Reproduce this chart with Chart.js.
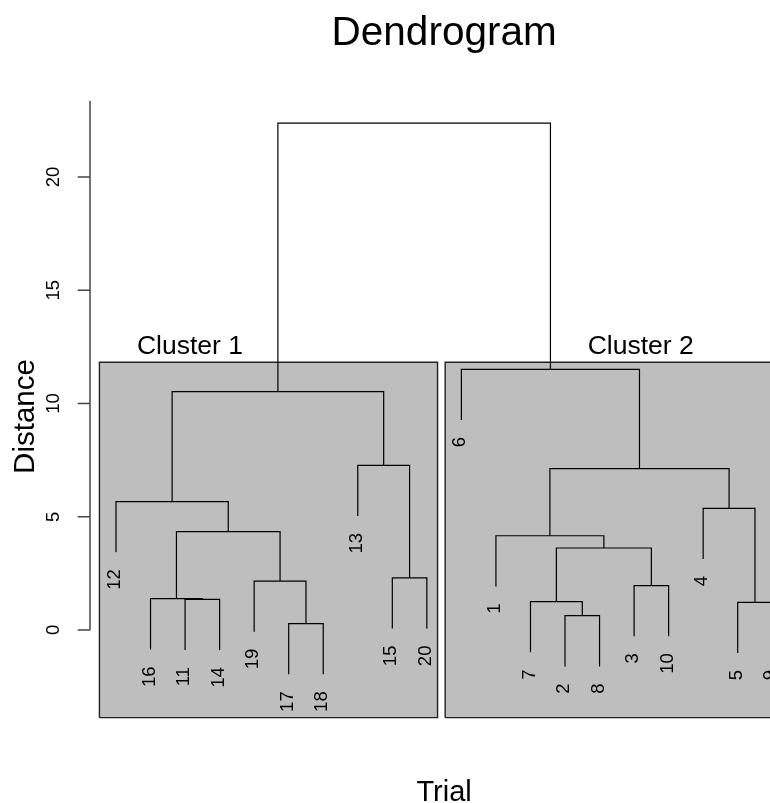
<!DOCTYPE html>
<html><head><meta charset="utf-8">
<script src="https://cdn.jsdelivr.net/npm/chart.js@4.4.1/dist/chart.umd.min.js"></script>
<style>
html,body{margin:0;padding:0;background:#fff;overflow:hidden;width:770px;height:803px}
#wrap{width:888px;height:803px}
</style></head>
<body><div id="wrap"><canvas id="c" width="888" height="803"></canvas></div>
<script>
// ---- data ----
const leafLabels = ['12','16','11','14','19','17','18','13','15','20','6','1','7','2','8','3','10','4','5','9'];
// merge steps (R hclust style): negative = leaf position in plot order, positive = earlier merge
const mergeLeft  = [-6,-14,-19,-13,-3,-2,-16,-5,-9, 4,-12, 6,-18,-1,11,-8,14,-11,17];
const mergeRight = [-7,-15,-20,  2,-4, 5,-17, 1,-10,7, 10, 8,  3,12,13, 9,16, 15,18];
const mergeHeights = [0.28,0.63,1.22,1.25,1.35,1.38,1.96,2.16,2.30,3.62,4.16,4.34,5.37,5.67,7.12,7.27,10.52,11.51,22.38];
const yTicks = [0,5,10,15,20];
const clusterNames = ['Cluster 1','Cluster 2'];
const clusterFrom = [0.52,10.53];
const clusterTo = [10.31,20.31];
const clusterTop = [11.82,11.82];
const clusterBottom = [-3.87,-3.87];
const clusterLabelX = [3.14,16.19];
const clusterLabelY = [12.2,12.2];
const titleText = 'Dendrogram', xTitle = 'Trial', yTitle = 'Distance';

// ---- build tree geometry ----
const hang = 0.1 * Math.max(...mergeHeights);
const nodeX = [];
const leafEnd = new Array(leafLabels.length);
function cx(c){ return c < 0 ? -c : nodeX[c-1]; }
function cy(c,h){ if (c < 0){ leafEnd[-c-1] = h - hang; return h - hang; } return mergeHeights[c-1]; }
const segments = mergeHeights.map((h,i)=>{
  const l = mergeLeft[i], r = mergeRight[i];
  const xl = cx(l), xr = cx(r);
  nodeX[i] = (xl + xr) / 2;
  return [{x:xl,y:cy(l,h)},{x:xl,y:h},{x:xr,y:h},{x:xr,y:cy(r,h)}];
});

const FONT = '"Liberation Sans", Arial, Helvetica, sans-serif';
const datasets = [];
clusterNames.forEach((n,i)=>{
  datasets.push({
    label:n, order:10,
    data:[{x:clusterFrom[i],y:clusterBottom[i]},{x:clusterFrom[i],y:clusterTop[i]},{x:clusterTo[i],y:clusterTop[i]},{x:clusterTo[i],y:clusterBottom[i]},{x:clusterFrom[i],y:clusterBottom[i]}],
    borderColor:'#222', borderWidth:1.4, backgroundColor:'#bebebe', fill:'shape',
    pointRadius:0, tension:0, clip:false
  });
});
segments.forEach((s,i)=>{
  datasets.push({label:'m'+(i+1), order:0, data:s, borderColor:'#000', borderWidth:1.2,
    pointRadius:0, tension:0, fill:false, clip:false});
});

const textPlugin = {
  id:'dendroText',
  afterDraw(chart){
    const ctx = chart.ctx, xs = chart.scales.x, ys = chart.scales.y, ca = chart.chartArea;
    ctx.save();
    ctx.fillStyle = '#000';
    // title
    ctx.font = '40.5px ' + FONT; ctx.textAlign='center'; ctx.textBaseline='alphabetic';
    ctx.fillText(titleText, (ca.left+ca.right)/2, 45);
    // x title
    ctx.font = '29px ' + FONT;
    ctx.fillText(xTitle, (ca.left+ca.right)/2, 801);
    // y title
    ctx.font = '29.5px ' + FONT;
    ctx.save(); ctx.translate(34, 416.5); ctx.rotate(-Math.PI/2);
    ctx.fillText(yTitle, 0, 0); ctx.restore();
    // y axis
    const ax = Math.round(ca.left);
    ctx.strokeStyle = '#444'; ctx.lineWidth = 1.5;
    ctx.beginPath(); ctx.moveTo(ax, ys.getPixelForValue(yTicks[0])); ctx.lineTo(ax, ca.top); ctx.stroke();
    ctx.font = '18.5px ' + FONT;
    yTicks.forEach(t=>{
      const py = ys.getPixelForValue(t);
      ctx.beginPath(); ctx.moveTo(ax, py); ctx.lineTo(ax-12.3, py); ctx.stroke();
      ctx.save(); ctx.translate(59, py); ctx.rotate(-Math.PI/2);
      ctx.textAlign='center'; ctx.textBaseline='alphabetic';
      ctx.fillText(String(t), 0, 0); ctx.restore();
    });
    // leaf labels
    leafLabels.forEach((lab,i)=>{
      const px = xs.getPixelForValue(i+1), py = ys.getPixelForValue(leafEnd[i]) + 17;
      ctx.save(); ctx.translate(px-1, py); ctx.rotate(-Math.PI/2);
      ctx.textAlign='right'; ctx.textBaseline='middle';
      ctx.fillText(lab, 0, 0); ctx.restore();
    });
    // cluster labels
    ctx.font = '26.5px ' + FONT; ctx.textAlign='center'; ctx.textBaseline='alphabetic';
    clusterNames.forEach((n,i)=>{
      ctx.fillText(n, xs.getPixelForValue(clusterLabelX[i]), ys.getPixelForValue(clusterLabelY[i]));
    });
    ctx.restore();
  }
};

new Chart(document.getElementById('c'), {
  type:'line',
  data:{datasets},
  options:{
    responsive:false, animation:false, devicePixelRatio:1,
    layout:{padding:{left:89.75, right:89.5, top:100.9, bottom:71.1}},
    parsing:true,
    scales:{
      x:{type:'linear', min:0.24, max:20.76, display:false},
      y:{type:'linear', min:-4.5, max:23.36, display:false}
    },
    plugins:{legend:{display:false}, tooltip:{enabled:false}, title:{display:false}}
  },
  plugins:[textPlugin]
});
</script>
</body></html>
